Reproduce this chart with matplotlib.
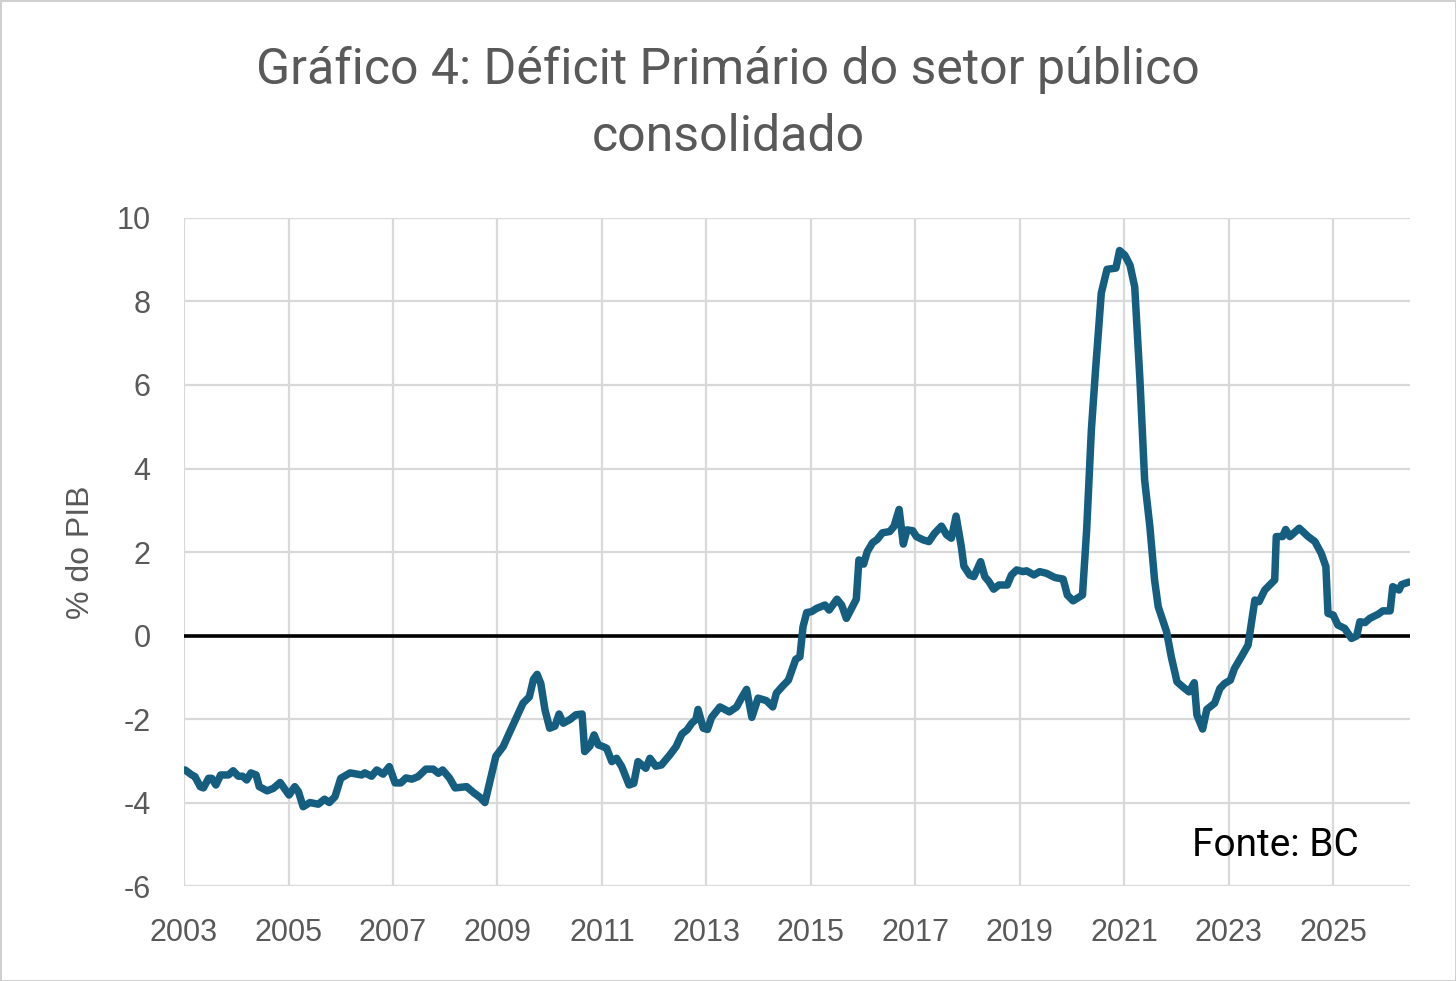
import matplotlib.pyplot as plt

# 12-month primary deficit, % of GDP
years = [
    2003.02, 2003.15, 2003.21, 2003.31, 2003.37, 2003.47, 2003.53, 2003.61, 2003.70, 2003.85,
    2003.94, 2004.04, 2004.12, 2004.20, 2004.28, 2004.38, 2004.44, 2004.59, 2004.71, 2004.84,
    2005.01, 2005.12, 2005.19, 2005.28, 2005.41, 2005.57, 2005.69, 2005.78, 2005.89, 2006.00,
    2006.18, 2006.40, 2006.46, 2006.59, 2006.69, 2006.81, 2006.93, 2007.04, 2007.15, 2007.25,
    2007.36, 2007.48, 2007.63, 2007.77, 2007.87, 2007.95, 2008.08, 2008.19, 2008.41, 2008.54,
    2008.67, 2008.76, 2008.97, 2009.11, 2009.24, 2009.49, 2009.61, 2009.69, 2009.76, 2009.83,
    2009.91, 2010.00, 2010.10, 2010.18, 2010.26, 2010.39, 2010.50, 2010.62, 2010.67, 2010.77,
    2010.85, 2010.93, 2011.02, 2011.09, 2011.19, 2011.28, 2011.38, 2011.52, 2011.61, 2011.69,
    2011.84, 2011.92, 2012.03, 2012.14, 2012.30, 2012.42, 2012.53, 2012.63, 2012.72, 2012.80,
    2012.84, 2012.94, 2013.02, 2013.10, 2013.26, 2013.44, 2013.58, 2013.67, 2013.77, 2013.87,
    2013.99, 2014.15, 2014.27, 2014.34, 2014.46, 2014.57, 2014.66, 2014.71, 2014.79, 2014.85,
    2014.92, 2015.01, 2015.11, 2015.27, 2015.35, 2015.50, 2015.59, 2015.68, 2015.78, 2015.87,
    2015.92, 2016.01, 2016.08, 2016.18, 2016.27, 2016.37, 2016.51, 2016.59, 2016.69, 2016.77,
    2016.84, 2016.95, 2017.02, 2017.15, 2017.26, 2017.37, 2017.50, 2017.60, 2017.69, 2017.78,
    2017.88, 2017.93, 2018.04, 2018.12, 2018.25, 2018.33, 2018.41, 2018.50, 2018.60, 2018.76,
    2018.84, 2018.94, 2019.06, 2019.13, 2019.27, 2019.38, 2019.51, 2019.67, 2019.83, 2019.91,
    2020.02, 2020.20, 2020.28, 2020.37, 2020.45, 2020.56, 2020.67, 2020.84, 2020.91, 2021.01,
    2021.11, 2021.20, 2021.30, 2021.39, 2021.49, 2021.58, 2021.65, 2021.81, 2021.90, 2022.01,
    2022.13, 2022.24, 2022.34, 2022.39, 2022.50, 2022.58, 2022.73, 2022.83, 2022.92, 2023.03,
    2023.11, 2023.26, 2023.37, 2023.50, 2023.58, 2023.69, 2023.88, 2023.91, 2024.03, 2024.09,
    2024.17, 2024.35, 2024.52, 2024.65, 2024.77, 2024.86, 2024.90, 2025.00, 2025.09, 2025.22,
    2025.35, 2025.45, 2025.51, 2025.61, 2025.70, 2025.86, 2025.95, 2026.09, 2026.14, 2026.26,
    2026.31, 2026.45,
]
deficit = [
    -3.22, -3.34, -3.38, -3.62, -3.65, -3.42, -3.42, -3.58, -3.34, -3.34,
    -3.24, -3.37, -3.37, -3.46, -3.29, -3.34, -3.62, -3.72, -3.66, -3.52,
    -3.82, -3.62, -3.74, -4.10, -4.00, -4.04, -3.92, -4.00, -3.86, -3.42,
    -3.29, -3.34, -3.29, -3.37, -3.22, -3.32, -3.14, -3.53, -3.53, -3.41,
    -3.44, -3.38, -3.20, -3.20, -3.30, -3.22, -3.41, -3.65, -3.62, -3.76,
    -3.88, -4.00, -2.89, -2.66, -2.30, -1.62, -1.47, -1.05, -0.93, -1.15,
    -1.78, -2.22, -2.17, -1.88, -2.10, -2.01, -1.90, -1.88, -2.78, -2.65,
    -2.38, -2.62, -2.66, -2.70, -3.02, -2.94, -3.14, -3.58, -3.54, -3.02,
    -3.18, -2.94, -3.13, -3.10, -2.86, -2.66, -2.36, -2.26, -2.10, -2.01,
    -1.77, -2.22, -2.25, -1.96, -1.71, -1.83, -1.71, -1.50, -1.29, -1.96,
    -1.50, -1.56, -1.71, -1.38, -1.21, -1.07, -0.75, -0.57, -0.51, 0.21,
    0.55, 0.57, 0.65, 0.73, 0.61, 0.87, 0.73, 0.41, 0.65, 0.87,
    1.81, 1.71, 2.01, 2.22, 2.30, 2.46, 2.49, 2.61, 3.02, 2.19,
    2.53, 2.51, 2.37, 2.29, 2.25, 2.45, 2.62, 2.41, 2.33, 2.86,
    2.13, 1.66, 1.45, 1.41, 1.77, 1.41, 1.29, 1.11, 1.21, 1.21,
    1.45, 1.57, 1.53, 1.55, 1.45, 1.53, 1.49, 1.39, 1.35, 0.97,
    0.83, 0.97, 2.53, 4.92, 6.36, 8.20, 8.77, 8.80, 9.22, 9.11,
    8.87, 8.35, 6.12, 3.72, 2.61, 1.33, 0.69, 0.09, -0.51, -1.11,
    -1.24, -1.35, -1.13, -1.90, -2.24, -1.77, -1.62, -1.27, -1.15, -1.07,
    -0.79, -0.47, -0.23, 0.85, 0.81, 1.09, 1.33, 2.37, 2.37, 2.54,
    2.37, 2.57, 2.37, 2.25, 1.97, 1.65, 0.53, 0.49, 0.25, 0.17,
    -0.07, -0.01, 0.33, 0.31, 0.41, 0.51, 0.59, 0.59, 1.17, 1.09,
    1.22, 1.28,
]
x_ticks = list(range(2003, 2026, 2))
y_ticks = list(range(-6, 11, 2))

grey_text = '#595959'
plt.rcParams['font.family'] = ['Liberation Sans', 'DejaVu Sans']
plt.rcParams['axes.unicode_minus'] = False

fig = plt.figure(figsize=(14.56, 9.81), dpi=100)
fig.patch.set_edgecolor('#d0d0d0')
fig.patch.set_linewidth(2)
ax = fig.add_axes([0.1264, 0.0968, 0.9684 - 0.1264, 0.7778 - 0.0968])

ax.plot(years, deficit, color='#165E80', linewidth=5.4, solid_joinstyle='round',
        solid_capstyle='round', zorder=4)
ax.axhline(0, color='black', linewidth=2.6, zorder=3)

ax.set_xlim(2003, 2026.47)
ax.set_ylim(-6, 10)
ax.set_xticks(x_ticks)
ax.set_yticks(y_ticks)
ax.set_xticklabels([str(t) for t in x_ticks])
ax.tick_params(axis='both', length=0, labelsize=22, labelcolor=grey_text)
ax.tick_params(axis='x', pad=23)
ax.tick_params(axis='y', pad=24)
ax.grid(True, color='#d9d9d9', linewidth=1.6)
ax.set_axisbelow(True)
for s in ax.spines.values():
    s.set_visible(False)

ax.set_ylabel('% do PIB', fontsize=23, color=grey_text, labelpad=15)

fig.text(0.5, 0.894, 'Gráfico 4: Déficit Primário do setor público\nconsolidado',
         ha='center', va='center', fontsize=36, color=grey_text, linespacing=1.5,
         family=['Roboto', 'DejaVu Sans'])
ax.text(2023.9, -5.02, 'Fonte: BC', ha='center', va='center', fontsize=28, color='black',
        family=['Roboto', 'DejaVu Sans'])

plt.savefig('out.png', dpi=100)
